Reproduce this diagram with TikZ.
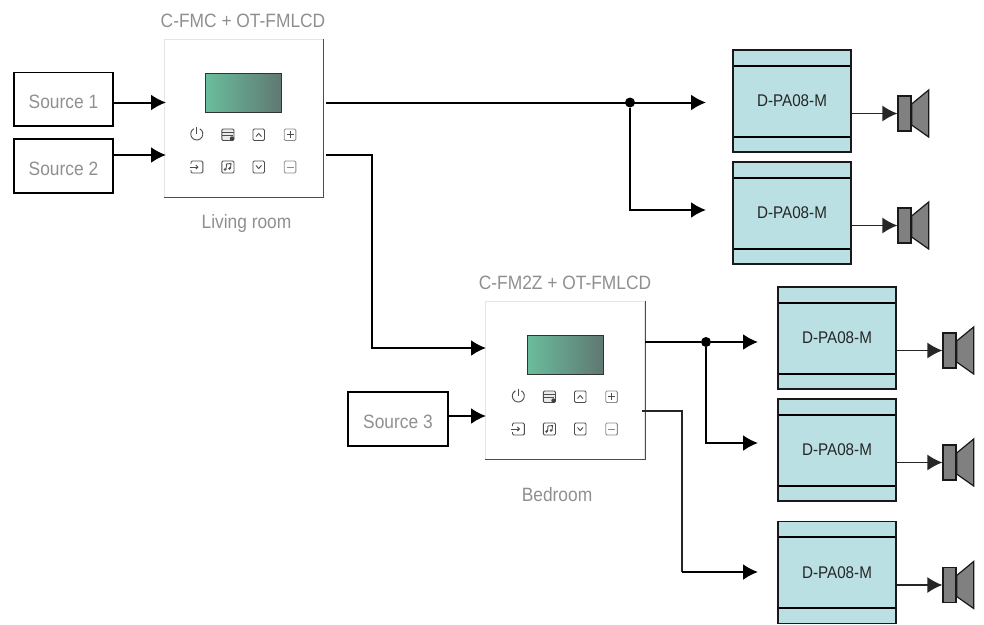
\documentclass[tikz,border=0pt]{standalone}
\usepackage{fontspec}
\setmainfont{Liberation Sans}[FakeStretch=0.9]
\usetikzlibrary{arrows.meta}
\definecolor{ampblue}{HTML}{BBE0E3}
\definecolor{labelgray}{HTML}{8F8F8F}
\definecolor{spkgray}{HTML}{808080}
\definecolor{lcdleft}{HTML}{6ABD9D}
\definecolor{lcdright}{HTML}{5F7872}
\tikzset{
  wire/.style={line width=2pt,-{Latex[length=15pt,width=16pt]}},
  branch/.style={line width=2pt},
  thinline/.style={line width=1.3pt,draw=black!85},
  thinwire/.style={line width=1.3pt,draw=black!85,-{Latex[length=15pt,width=16pt]}},
  dot/.style={circle,fill=black,inner sep=0pt,minimum size=10pt},
  source/.style={draw=black,line width=1.8pt,minimum width=99.5pt,minimum height=53.5pt,text=labelgray,
    text height=19pt,text depth=0pt,font=\fontsize{19.3}{22}\selectfont},
  panel/.style={draw=black!10,fill=white,line width=1pt,minimum width=159pt,minimum height=158pt},
  amp/.style={draw=black!90,fill=ampblue,line width=1.8pt,minimum width=118pt,minimum height=102pt,
    font=\fontsize{16.9}{20}\selectfont,text=black!85,
    path picture={
      \draw[black,line width=2pt] ([yshift=-15.5pt]path picture bounding box.north west) -- ([yshift=-15.5pt]path picture bounding box.north east);
      \draw[black,line width=2pt] ([yshift=15.5pt]path picture bounding box.south west) -- ([yshift=15.5pt]path picture bounding box.south east);
    }},
  spkbody/.style={draw=black!90,fill=spkgray,line width=1.3pt,minimum width=13pt,minimum height=35pt},
  caption/.style={text=labelgray,font=\fontsize{19.3}{22}\selectfont},
  icon/.style={draw=black!70,line width=0.9pt,rounded corners=1.2pt},
  glyph/.style={draw=black!70,line width=0.9pt},
  faint/.style={draw=black!45,line width=0.9pt,rounded corners=1.2pt},
  panelface/.pic={
    \draw[draw=black!80,left color=lcdleft,right color=lcdright,line width=0.8pt] (-38,-44.5) rectangle (38,-6);
    % top row
    \draw[glyph] (-43.7,10.8) arc (-60:240:6);
    \draw[glyph] (-46.7,9) -- (-46.7,16);
    \draw[icon,fill=black!8] (-21.7,11) rectangle (-9.5,22.5);
    \draw[glyph] (-21.7,14.5) -- (-9.5,14.5) (-21.7,17.5) -- (-11,17.5);
    \draw[fill=black!75,draw=none] (-11.5,20.5) circle (2.2);
    \draw[icon] (9.5,11) rectangle (21,22.5);
    \draw[glyph] (12.5,18.5) -- (15.2,15.5) -- (18,18.5);
    \draw[faint] (40.7,11) rectangle (52.3,22.5);
    \draw[glyph] (43,16.8) -- (50,16.8) (46.5,13.3) -- (46.5,20.3);
    % bottom row
    \draw[icon] (-52.5,46) -- (-52.5,43) -- (-40.7,43) -- (-40.7,55) -- (-52.5,55) -- (-52.5,52);
    \draw[glyph,-{Straight Barb[length=2pt,width=4pt]}] (-54,49) -- (-45,49);
    \draw[icon] (-21.7,43) rectangle (-9.5,55);
    \draw[glyph] (-17.5,51.5) -- (-17,46) -- (-12.5,45.5) -- (-13,50.5);
    \draw[fill=black!70,draw=none] (-18.5,51.5) circle (1.3) (-14,50.5) circle (1.3);
    \draw[icon] (9.5,43) rectangle (21,55);
    \draw[glyph] (12.5,47.5) -- (15.2,50.5) -- (18,47.5);
    \draw[faint] (40.7,43) rectangle (52.3,55);
    \draw[draw=black!45,line width=0.9pt] (43,49) -- (50,49);
  }
}
\begin{document}
\begin{tikzpicture}[x=1pt,y=-1pt]
  \useasboundingbox (0,0) rectangle (984,624);
  % sources
  \node[source] (src1) at (63.5,99.2) {Source 1};
  \node[source] (src2) at (63.5,166) {Source 2};
  \node[source] (src3) at (398,419) {Source 3};
  % keypads
  \node[panel] (panel1) at (243.5,118) {};
  \node[panel] (panel2) at (565,380) {};
  \foreach \p in {panel1,panel2} {
    \draw[black!70,line width=1pt] (\p.north east) -- (\p.south east) -- (\p.south west);
    \pic at (\p) {panelface};
  }
  \node[caption] (title1) at (243,20.5) {C-FMC + OT-FMLCD};
  \node[caption] (room1) at (246.5,224) {Living room};
  \node[caption] (title2) at (565,283) {C-FM2Z + OT-FMLCD};
  \node[caption] (room2) at (557,495) {Bedroom};
  % amplifiers and speakers
  \foreach \n/\cx/\cy in {1/792/101,2/792/213,3/837/338,4/837/450,5/837/572.5} {
    \node[amp] (amp\n) at (\cx,\cy) {D-PA08-M};
    \node[spkbody] (spk\n) at (\cx+112.5,\cy+12.5) {};
    \draw[draw=black!90,fill=spkgray,line width=1.2pt] (spk\n.east) ++(0,-9.5) -- ++(17,-14) -- ++(0,47) -- ++(-17,-12) -- cycle;
    \draw[thinwire] (amp\n.east |- spk\n.west) -- (spk\n.west);
  }
  % named ends, the wires stop short of the boxes
  \coordinate (p1in1) at (166,102.5);
  \coordinate (p1in2) at (166,155);
  \coordinate (p1out1) at (326,102.5);
  \coordinate (p1out2) at (326,154.5);
  \coordinate (a1in) at (706,102.5);
  \coordinate (a2in) at (706,210);
  \coordinate (p2in1) at (486,348);
  \coordinate (p2in2) at (486,416);
  \coordinate (p2out1) at (645,342);
  \coordinate (p2out2) at (642,411);
  \coordinate (a3in) at (758,342);
  \coordinate (a4in) at (758,443);
  \coordinate (a5in) at (758,572);
  \coordinate (drop) at (682,572);
  \node[dot] (split1) at (630,102.5) {};
  \node[dot] (split2) at (706,342) {};
  % first room
  \draw[wire] (src1.east |- p1in1) -- (p1in1);
  \draw[wire] (src2.east |- p1in2) -- (p1in2);
  \draw[wire] (p1out1) -- (a1in);
  \draw[wire] (split1) |- (a2in);
  \draw[wire] (p1out2) -- (371.5,154.5) -- (371.5,348) -- (p2in1);
  % second room
  \draw[wire] (src3.east |- p2in2) -- (p2in2);
  \draw[branch] (p2out1) -- (split2);
  \draw[wire] (split2) -- (a3in);
  \draw[wire] (split2) |- (a4in);
  \draw[thinline] (p2out2) -| (drop);
  \draw[wire] (drop) -- (a5in);
\end{tikzpicture}
\end{document}
